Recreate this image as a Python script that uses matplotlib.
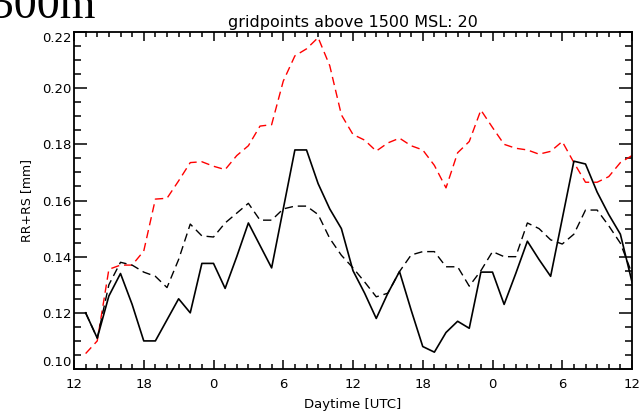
import matplotlib
matplotlib.use('Agg')
import matplotlib.pyplot as plt
from matplotlib.ticker import MultipleLocator

plt.rcParams['font.family'] = ['DejaVu Sans']

# hourly values, hour 0 = 12 UTC of the first day
hours = list(range(1, 49))

rr_rs_solid = [0.120, 0.111, 0.126, 0.134, 0.123, 0.110, 0.110, 0.1175, 0.125, 0.120,
               0.1376, 0.1376, 0.1287, 0.140, 0.152, 0.144, 0.136, 0.157, 0.178, 0.178,
               0.166, 0.157, 0.150, 0.135, 0.127, 0.118, 0.127, 0.1347, 0.121, 0.108,
               0.106, 0.113, 0.117, 0.1145, 0.1345, 0.1345, 0.123, 0.134, 0.1455, 0.139,
               0.133, 0.1535, 0.174, 0.173, 0.163, 0.155, 0.148, 0.131]

rr_rs_dashed = [0.120, 0.111, 0.130, 0.138, 0.137, 0.1345, 0.133, 0.129, 0.139, 0.1516,
                0.1474, 0.147, 0.152, 0.1555, 0.159, 0.153, 0.153, 0.157, 0.158, 0.158,
                0.155, 0.1465, 0.1405, 0.136, 0.131, 0.1257, 0.127, 0.1347, 0.1406, 0.1418,
                0.1418, 0.1364, 0.1364, 0.1295, 0.135, 0.1418, 0.140, 0.140, 0.152, 0.150,
                0.146, 0.1445, 0.148, 0.1566, 0.1566, 0.151, 0.1448, 0.134]

rr_rs_red = [0.1055, 0.110, 0.1355, 0.137, 0.137, 0.142, 0.1605, 0.1608, 0.167, 0.1735,
             0.1738, 0.1722, 0.171, 0.176, 0.1795, 0.1865, 0.187, 0.2025, 0.2115, 0.214,
             0.218, 0.208, 0.1905, 0.1835, 0.1815, 0.1776, 0.1805, 0.1822, 0.1795, 0.178,
             0.1725, 0.1645, 0.177, 0.181, 0.1922, 0.186, 0.180, 0.1786, 0.178, 0.1765,
             0.1775, 0.181, 0.1735, 0.1665, 0.1665, 0.1685, 0.1735, 0.176]

tick_hours = [0, 6, 12, 18, 24, 30, 36, 42, 48]
tick_labels = ['12', '18', '0', '6', '12', '18', '0', '6', '12']
y_ticks = [0.10, 0.12, 0.14, 0.16, 0.18, 0.20, 0.22]

fig = plt.figure(figsize=(6.4, 4.12), dpi=100)
ax = fig.add_axes([74 / 640, 1 - 369 / 412, 558 / 640, 337 / 412])

ax.plot(hours, rr_rs_red, color='red', lw=1.0, dashes=(6, 3.5))
ax.plot(hours, rr_rs_dashed, color='black', lw=1.0, dashes=(6, 3.5))
ax.plot(hours, rr_rs_solid, color='black', lw=1.2)

ax.set_xlim(0, 48)
ax.set_ylim(0.10, 0.22)
ax.set_xticks(tick_hours)
ax.set_xticklabels(tick_labels)
ax.xaxis.set_minor_locator(MultipleLocator(1))
ax.set_yticks(y_ticks)
ax.set_yticklabels(['%.2f' % v for v in y_ticks])
ax.yaxis.set_minor_locator(MultipleLocator(0.005))

ax.tick_params(which='both', direction='in', top=True, right=True, width=1.1, labelsize=9.5)
ax.tick_params(axis='x', which='major', length=6.5, pad=6.5)
ax.tick_params(axis='x', which='minor', length=3.6)
ax.tick_params(axis='y', which='major', length=9.4, pad=1.5)
ax.tick_params(axis='y', which='minor', length=5)
for s in ax.spines.values():
    s.set_linewidth(1.3)

# end labels kept inside the axis range
ylabels = ax.get_yticklabels()
ylabels[0].set_va('bottom')
ylabels[-1].set_va('top')

ax.set_title('gridpoints above 1500 MSL: 20', fontsize=11.5, pad=3.5)
ax.set_xlabel('Daytime [UTC]', fontsize=9.5, labelpad=5)
ax.set_ylabel('RR+RS [mm]', fontsize=9, labelpad=6.5)

fig.text(96 / 640, 1 - 18 / 412, '1500m', ha='right', va='baseline',
         fontsize=33, family='Liberation Serif')

fig.savefig('out.png', dpi=100)
